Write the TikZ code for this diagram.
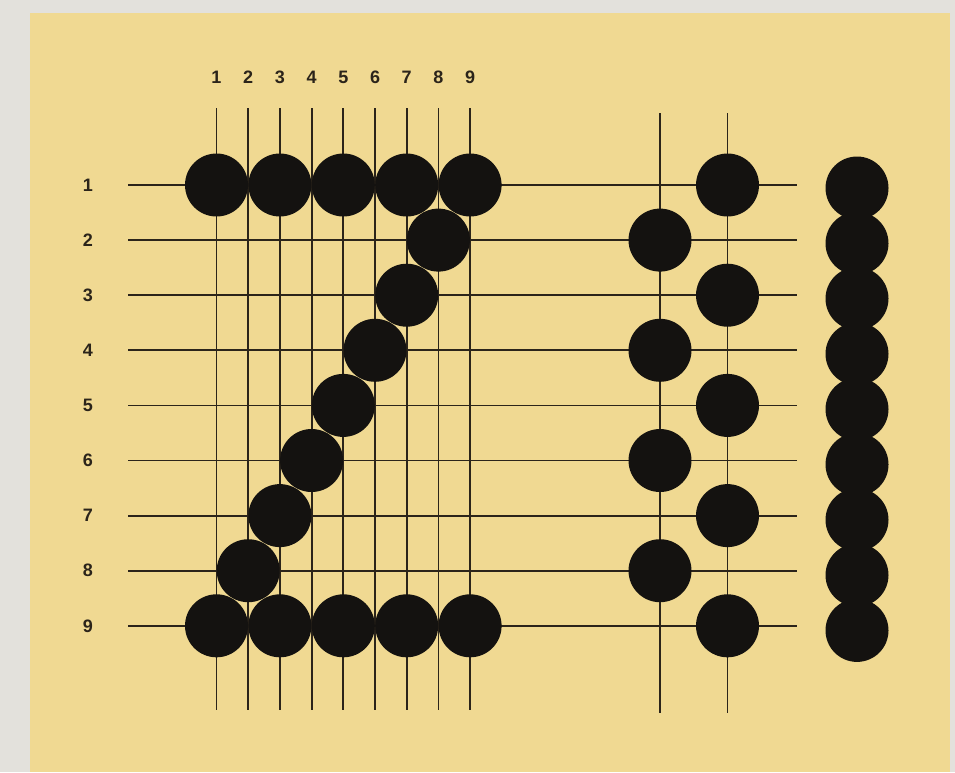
\documentclass[tikz,border=0pt]{standalone}
\usepackage{fontspec}
\setmainfont{Liberation Sans}
\definecolor{Paper}{HTML}{F0D992}
\definecolor{Margin}{HTML}{E3E1DC}
\definecolor{Ink}{HTML}{2B241A}
\definecolor{Stone}{HTML}{141210}

\begin{document}
\begin{tikzpicture}[x=1pt,y=-1pt,
    stone/.style={circle,fill=Stone,minimum size=63pt,inner sep=0pt},
    num/.style={font=\fontsize{18}{18}\selectfont\bfseries,text=Ink,inner sep=0pt},
    gridline/.style={draw=Ink,line width=1.8pt}]
  \useasboundingbox (0,0) rectangle (955,772);
  \fill[Margin] (0,0) rectangle (955,772);
  \fill[Paper] (30,13) rectangle (950,772);

  % rows and columns of the board
  \foreach \i in {1,...,9} {
    \pgfmathsetmacro{\ry}{185+55.1*(\i-1)}
    \pgfmathsetmacro{\cx}{216.5+31.7*(\i-1)}
    \coordinate (roww\i) at (128,\ry);
    \coordinate (rowe\i) at (797,\ry);
    \coordinate (coln\i) at (\cx,108);
    \coordinate (cols\i) at (\cx,710);
    \node[num] (rownum\i) at (88,\ry) {\i};
    \node[num] (colnum\i) at (\cx,77) {\i};
    \draw[gridline] (roww\i) -- (rowe\i);
    \draw[gridline] (coln\i) -- (cols\i);
  }
  \coordinate (an) at (660,113);
  \coordinate (as) at (660,713);
  \coordinate (bn) at (727.5,113);
  \coordinate (bs) at (727.5,713);
  \draw[gridline] (an) -- (as);
  \draw[gridline] (bn) -- (bs);

  % the figure on the board
  \foreach \c in {1,3,5,7,9} {
    \node[stone] (top\c) at (coln\c |- roww1) {};
    \node[stone] (bot\c) at (coln\c |- roww9) {};
  }
  \foreach \r/\c in {2/8,3/7,4/6,5/5,6/4,7/3,8/2}
    \node[stone] (diag\r) at (coln\c |- roww\r) {};

  % the two loose columns
  \foreach \r in {2,4,6,8}
    \node[stone] (left\r) at (an |- roww\r) {};
  \foreach \r in {1,3,5,7,9}
    \node[stone] (right\r) at (bn |- roww\r) {};

  % the full stack
  \foreach \r in {1,...,9} {
    \pgfmathsetmacro{\sy}{188+55.3*(\r-1)}
    \node[stone] (stack\r) at (857,\sy) {};
  }
\end{tikzpicture}
\end{document}
